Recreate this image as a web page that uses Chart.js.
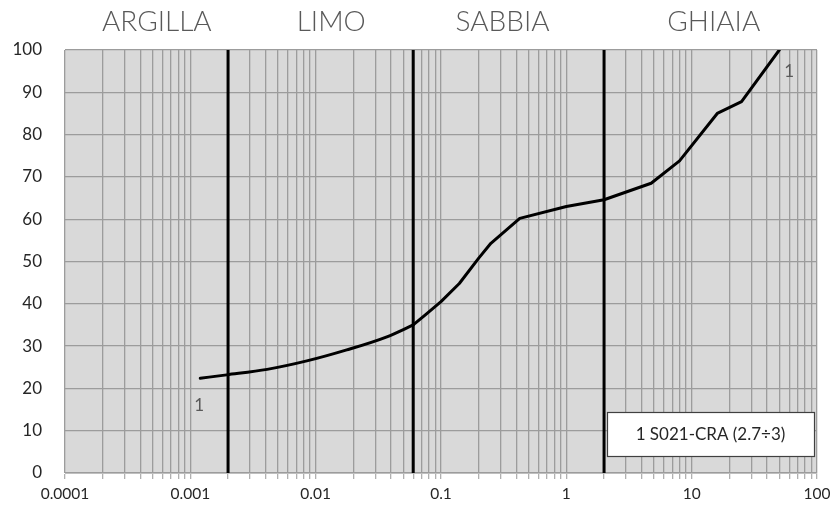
<!DOCTYPE html>
<html>
<head>
<meta charset="utf-8">
<script src="https://cdn.jsdelivr.net/npm/chart.js@4/dist/chart.umd.min.js"></script>
<style>
  html, body { margin: 0; padding: 0; background: #ffffff; }
  #wrap { width: 830px; height: 510px; }
</style>
</head>
<body>
<div id="wrap"><canvas id="grain" width="830" height="510"></canvas></div>
<script>
// Grain size (mm) and percent passing for sample 1 S021-CRA (2.7÷3)
// hydrometer readings (fine fraction) followed by sieve results
const sizeMm = [0.0012, 0.00195, 0.0041, 0.0085, 0.0177, 0.037, 0.06, 0.075, 0.1, 0.14, 0.2, 0.25, 0.425, 1, 2, 4.75, 8, 16, 25, 50];
const passing = [22.4, 23.2, 24.5, 26.5, 29.1, 32.2, 35.0, 37.4, 40.5, 44.8, 50.8, 54.3, 60.2, 63.0, 64.6, 68.5, 73.8, 85.0, 87.8, 100];
const hydrometerCount = 7;

// Class boundaries (mm): clay/silt, silt/sand, sand/gravel
const boundaryMm = [0.002, 0.06, 2];

// Class names and where their titles sit along the size axis (mm)
const zoneNames = ['ARGILLA', 'LIMO', 'SABBIA', 'GHIAIA'];
const zoneAnchorMm = [0.00054, 0.0133, 0.31, 15];

// Axis labels
const xTickLabels = ['0.0001', '0.001', '0.01', '0.1', '1', '10', '100'];
const yTickStep = 10;

const seriesName = '1 S021-CRA (2.7÷3)';
const seriesTag = '1';

const decades = xTickLabels.map(Number);
const xGridValues = [];
decades.forEach((d, i) => {
  if (i === decades.length - 1) { xGridValues.push(d); return; }
  for (let m = 1; m <= 9; m++) xGridValues.push(Number((d * m).toPrecision(4)));
});

const curve = sizeMm.map((x, i) => ({ x: x, y: passing[i] }));
const finepart = curve.slice(0, hydrometerCount);
const coarsePart = curve.slice(hydrometerCount - 1);

const boundarySets = boundaryMm.map(b => ({
  data: [{ x: b, y: 0 }, { x: b, y: 100 }],
  borderColor: '#000000',
  borderWidth: 3,
  pointRadius: 0,
  showLine: true,
  tension: 0
}));

const FONT = 'Lato, "Open Sans", sans-serif';

const decorPlugin = {
  id: 'decor',
  beforeDraw(chart) {
    const { ctx, chartArea: a } = chart;
    ctx.save();
    ctx.fillStyle = '#ffffff';
    ctx.fillRect(0, 0, chart.width, chart.height);
    ctx.fillStyle = '#d9d9d9';
    ctx.fillRect(a.left, a.top, a.right - a.left, a.bottom - a.top);
    ctx.restore();
  },
  afterDraw(chart) {
    const { ctx, chartArea: a, scales } = chart;
    const xs = scales.x, ys = scales.y;
    ctx.save();
    // class titles above the plot
    ctx.fillStyle = '#595959';
    ctx.font = '300 28px ' + FONT;
    ctx.textAlign = 'center';
    ctx.textBaseline = 'middle';
    zoneNames.forEach((n, i) => {
      ctx.fillText(n, xs.getPixelForValue(zoneAnchorMm[i]), 22);
    });
    // series tag at first and last points
    ctx.font = '17px ' + FONT;
    ctx.fillStyle = '#595959';
    const first = curve[0], last = curve[curve.length - 1];
    ctx.fillText(seriesTag, xs.getPixelForValue(first.x) - 1, ys.getPixelForValue(first.y) + 27);
    ctx.fillText(seriesTag, xs.getPixelForValue(last.x) + 10, ys.getPixelForValue(last.y) + 22);
    // legend box
    const bw = 207, bh = 44;
    const bx = a.right - 210, by = a.bottom - 61;
    ctx.fillStyle = '#ffffff';
    ctx.fillRect(bx, by, bw, bh);
    ctx.strokeStyle = '#404040';
    ctx.lineWidth = 1.2;
    ctx.strokeRect(bx + 0.5, by + 0.5, bw, bh);
    ctx.fillStyle = '#262626';
    ctx.font = '17px ' + FONT;
    ctx.fillText(seriesName, bx + bw / 2, by + bh / 2 + 1);
    ctx.restore();
  }
};

const curveStyle = {
  borderColor: '#000000',
  borderWidth: 3,
  pointRadius: 0,
  showLine: true,
  borderJoinStyle: 'round',
  borderCapStyle: 'round'
};

new Chart(document.getElementById('grain'), {
  type: 'scatter',
  data: {
    datasets: [
      ...boundarySets,
      Object.assign({ data: finepart, cubicInterpolationMode: 'monotone' }, curveStyle),
      Object.assign({ data: coarsePart, tension: 0 }, curveStyle)
    ]
  },
  options: {
    responsive: false,
    animation: false,
    layout: { padding: { top: 50, right: 13, left: 0, bottom: 0 } },
    plugins: { legend: { display: false }, tooltip: { enabled: false } },
    scales: {
      x: {
        type: 'logarithmic',
        min: decades[0],
        max: decades[decades.length - 1],
        afterBuildTicks(scale) {
          scale.ticks = xGridValues.map(v => ({ value: v }));
        },
        afterFit(scale) {
          scale.height = 37;
          scale.paddingLeft = 0;
          scale.paddingRight = 0;
        },
        border: { display: true, color: '#bfbfbf', width: 1 },
        grid: {
          color: '#9c9c9c',
          lineWidth: 1.3,
          drawTicks: true,
          tickLength: 6,
          tickColor: '#b0b0b0'
        },
        ticks: {
          autoSkip: false,
          maxRotation: 0,
          minRotation: 0,
          padding: 6,
          color: '#262626',
          font: { family: FONT, size: 15.5 },
          callback(value) {
            const i = decades.findIndex(d => Math.abs(d - value) / d < 1e-6);
            return i >= 0 ? xTickLabels[i] : '';
          }
        }
      },
      y: {
        min: 0,
        max: 100,
        afterFit(scale) {
          scale.width = 65;
          scale.paddingTop = 0;
          scale.paddingBottom = 0;
        },
        border: { display: false },
        grid: { color: '#9c9c9c', lineWidth: 1.3, drawTicks: false },
        ticks: {
          stepSize: yTickStep,
          padding: 23,
          color: '#262626',
          font: { family: FONT, size: 17 }
        }
      }
    }
  },
  plugins: [decorPlugin]
});
</script>
</body>
</html>
